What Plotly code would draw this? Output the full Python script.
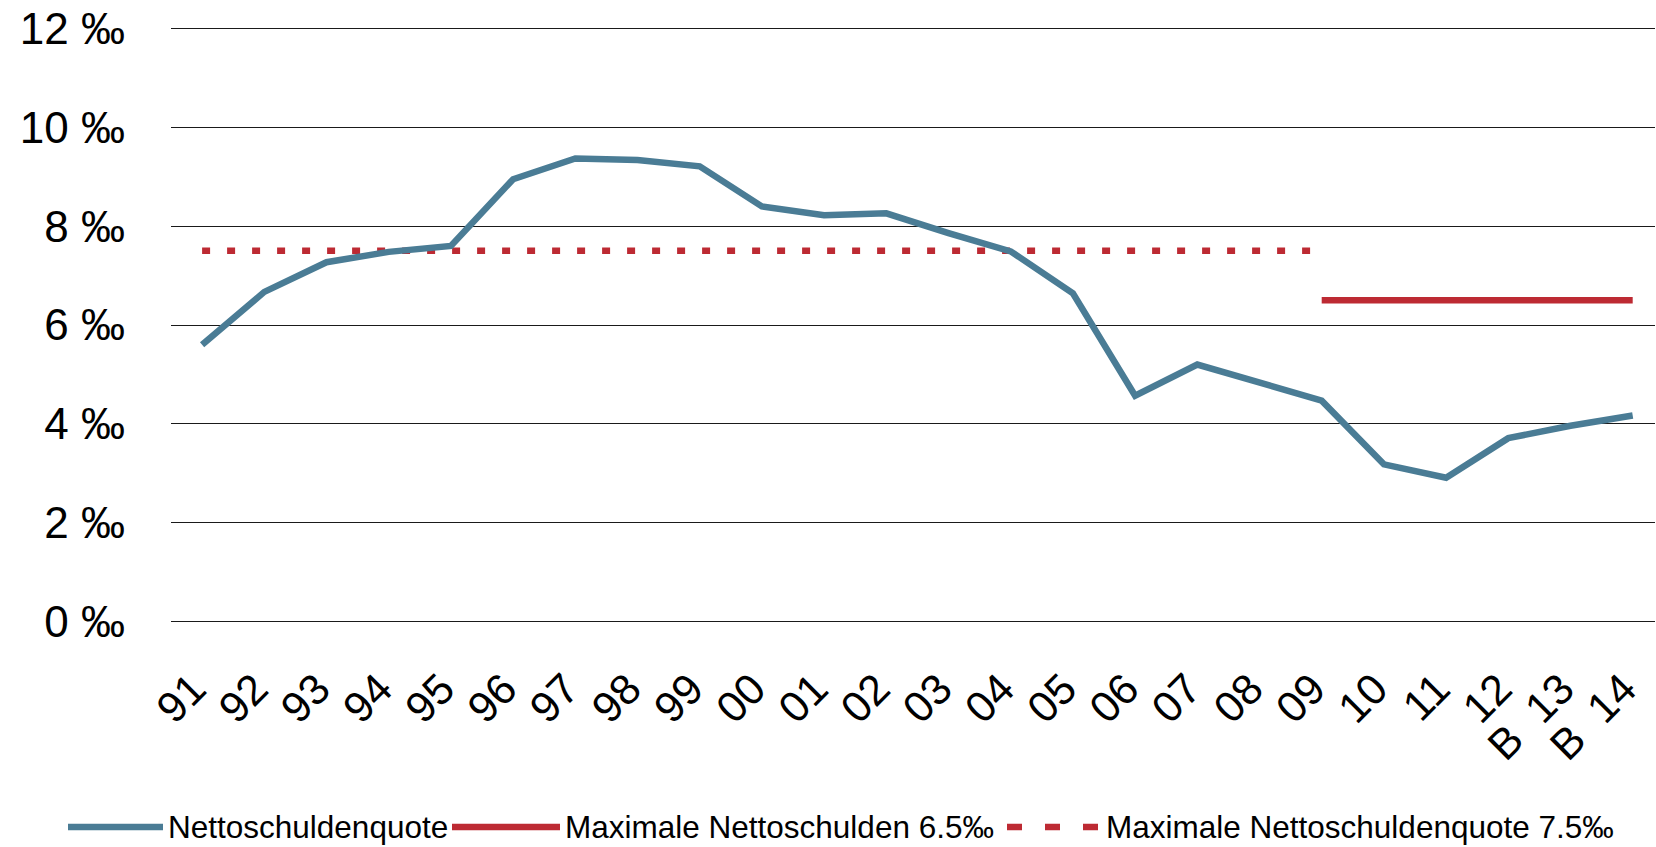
import plotly.graph_objects as go

# ---------------- data ----------------
categories = ["91", "92", "93", "94", "95", "96", "97", "98", "99", "00", "01", "02",
              "03", "04", "05", "06", "07", "08", "09", "10", "11", "12", "B 13", "B 14"]
x_tick_labels = ["91", "92", "93", "94", "95", "96", "97", "98", "99", "00", "01", "02",
                 "03", "04", "05", "06", "07", "08", "09", "10", "11", "12",
                 "B\u00a0 13", "B\u00a0 14"]
nettoschuldenquote = [5.60, 6.67, 7.27, 7.48, 7.60, 8.95, 9.37, 9.34, 9.21, 8.40, 8.22, 8.26,
                      7.86, 7.49, 6.64, 4.57, 5.20, 4.83, 4.47, 3.18, 2.91, 3.71, 3.96, 4.17]
max_schulden_65 = [None] * 18 + [6.5] * 6          # from 09 to B 14
max_quote_75 = [7.5] * 19 + [None] * 5             # from 91 to 09
y_ticks = [0, 2, 4, 6, 8, 10, 12]
y_tick_labels = ["0 ‰", "2 ‰", "4 ‰", "6 ‰", "8 ‰", "10 ‰", "12 ‰"]
legend_names = ["Nettoschuldenquote", "Maximale Nettoschulden 6.5‰",
                "Maximale Nettoschuldenquote 7.5‰"]

BLUE = "#4A7C95"
RED = "#BD2A33"
FONT = "Liberation Sans, Arial, Helvetica, sans-serif"

W, H = 1656, 847
Y_BOTTOM, Y_TOP = -0.05, 12.05
ML, MR = 171, 1
PX_PER_UNIT = 49.4
Y0_PIX = 621.5                      # pixel row of the 0 ‰ gridline
MB = int(round(H - Y0_PIX + Y_BOTTOM * PX_PER_UNIT))
MT = int(round(Y0_PIX - Y_TOP * PX_PER_UNIT))
CAT_PX = 62.2                       # pixel width of one category slot
X_RIGHT = -0.5 + (W - ML - MR) / CAT_PX

fig = go.Figure()
fig.add_trace(go.Scatter(x=categories, y=max_quote_75, mode="lines", name=legend_names[2],
                         line=dict(color=RED, width=6.5, dash="8px,17px"), connectgaps=False))
fig.add_trace(go.Scatter(x=categories, y=max_schulden_65, mode="lines", name=legend_names[1],
                         line=dict(color=RED, width=6.5), connectgaps=False))
fig.add_trace(go.Scatter(x=categories, y=nettoschuldenquote, mode="lines", name=legend_names[0],
                         line=dict(color=BLUE, width=6.5)))

# ---------- manual legend (pixel positions converted to paper coords) ----------
pw = W - ML - MR
ph = H - MT - MB


def px(xp):
    return (xp - ML) / pw


def py(yp):
    return (H - MB - yp) / ph


ly_line = 827
ly_text = 827
legend_items = [
    (legend_names[0], BLUE, "solid", 68, 163, 166),
    (legend_names[1], RED, "solid", 452, 560, 563),
    (legend_names[2], RED, "15px,23px", 1007, 1099, 1104),
]
for name, col, dash, x0, x1, xt in legend_items:
    fig.add_shape(type="line", xref="paper", yref="paper",
                  x0=px(x0), x1=px(x1), y0=py(ly_line), y1=py(ly_line),
                  line=dict(color=col, width=6.5, dash=dash))
    fig.add_annotation(xref="paper", yref="paper", x=px(xt), y=py(ly_text),
                       text=name, showarrow=False, xanchor="left", yanchor="middle",
                       font=dict(family=FONT, size=31.5, color="#000"))

fig.update_layout(
    width=W, height=H,
    margin=dict(l=ML, r=MR, t=MT, b=MB, pad=0, autoexpand=False),
    paper_bgcolor="white", plot_bgcolor="white",
    showlegend=False,
    font=dict(family=FONT, size=44, color="#000"),
)
fig.update_xaxes(type="category", range=[-0.5, X_RIGHT], automargin=False,
                 tickmode="array", tickvals=categories, ticktext=x_tick_labels,
                 tickangle=-45, showgrid=False, showline=False,
                 zeroline=False, ticks="", tickfont=dict(family=FONT, size=43, color="#000"),
                 ticklabelstandoff=30, ticklabelshift=-9)
fig.update_yaxes(range=[Y_BOTTOM, Y_TOP], tickvals=y_ticks, ticktext=y_tick_labels,
                 automargin=False, showgrid=True, gridcolor="#1a1a1a", gridwidth=1,
                 zeroline=False, showline=False, ticks="",
                 tickfont=dict(family=FONT, size=44, color="#000"),
                 ticklabelstandoff=45)

fig.write_html("out.html", config={"displayModeBar": False},
               post_script="document.body.style.margin='0';document.body.style.overflow='hidden';")
